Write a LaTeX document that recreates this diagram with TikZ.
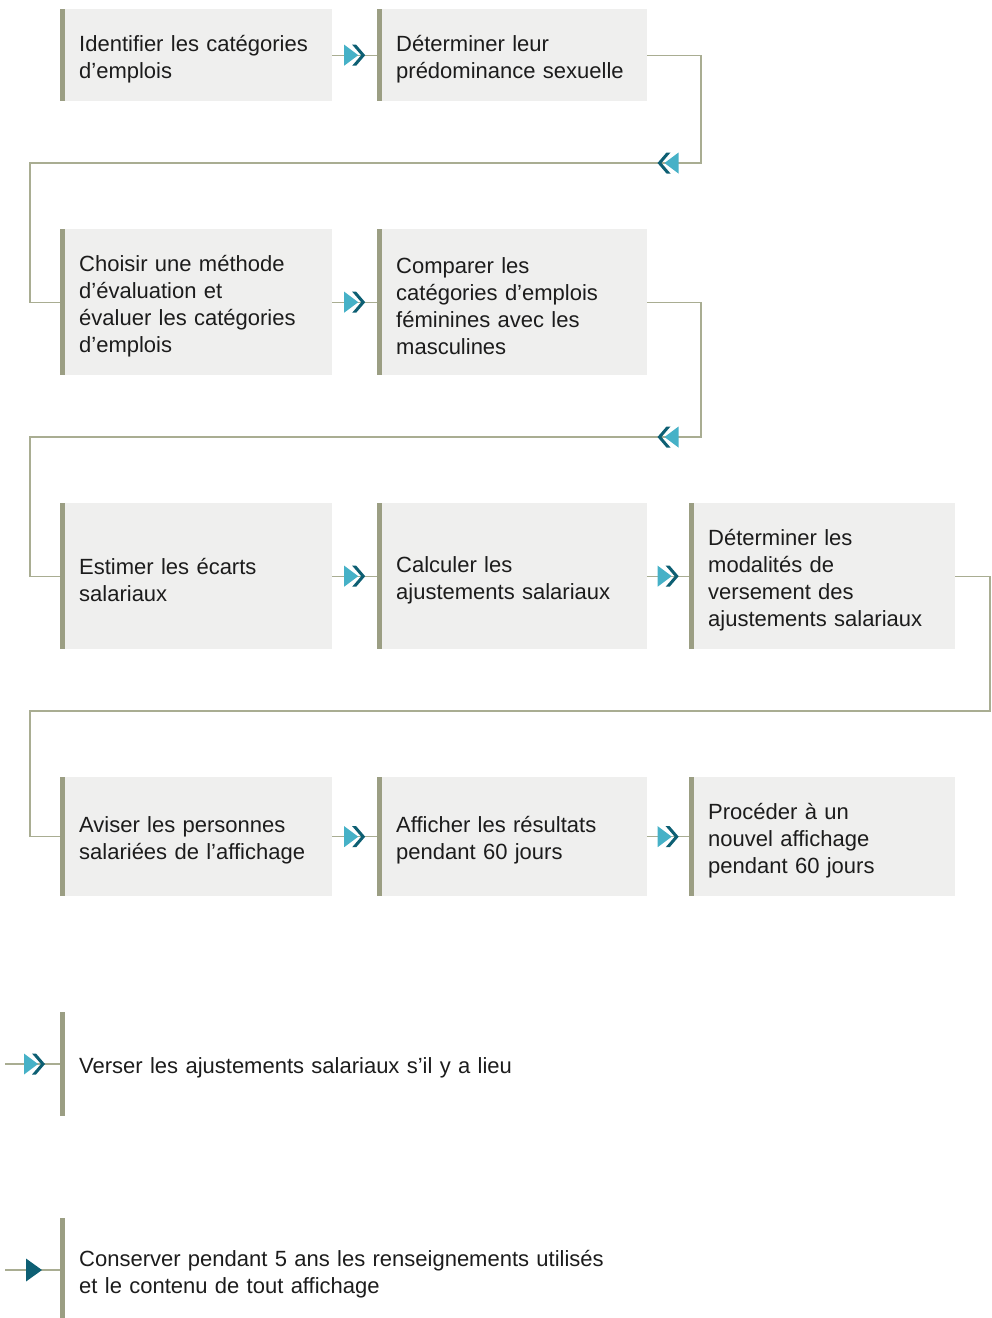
\documentclass[tikz,border=0pt]{standalone}
\usepackage{fontspec}
\setmainfont{Liberation Sans}[WordSpace=0.85]
\usetikzlibrary{calc}

\definecolor{fondgris}{HTML}{EFEFEE}
\definecolor{barre}{HTML}{9B9E83}
\definecolor{trait}{HTML}{A9AD92}
\definecolor{tealclair}{HTML}{46B1C7}
\definecolor{tealfonce}{HTML}{0D5F73}
\definecolor{texte}{HTML}{1C1C1C}

\begin{document}
\begin{tikzpicture}[x=1pt, y=-1pt,
    etape/.style={fill=fondgris, anchor=north west, align=left, inner xsep=19pt, inner ysep=0pt,
        text=texte, font=\fontsize{22}{27}\selectfont,
        execute at begin node={\rule{0pt}{24pt}},
        path picture={\fill[barre] (path picture bounding box.north west) rectangle ([xshift=4.5pt]path picture bounding box.south west);}},
    note/.style={etape, fill=none, anchor=west, text width=560pt},
    liaison/.style={draw=trait, line width=1.3pt},
    chevrons/.pic={
        \fill[tealclair] (-10.5,-10.5) -- (3.5,0) -- (-10.5,10.5) -- cycle;
        \fill[tealfonce] (-2.5,-10.5) -- (1.5,-10.5) -- (10.5,0) -- (1.5,10.5) -- (-2.5,10.5) -- (6.5,0) -- cycle;
    },
    fleche/.pic={
        \fill[tealfonce] (-8,-11.5) -- (8,0) -- (-8,11.5) -- cycle;
    }]
    \useasboundingbox (0,0) rectangle (992,1318);

    \node[etape, text width=234pt, minimum height=92pt] (b1) at (60,9) {Identifier les catégories\\d’emplois};
    \node[etape, text width=232pt, minimum height=92pt] (b2) at (377,9) {Déterminer leur\\prédominance sexuelle};

    \node[etape, text width=234pt, minimum height=146pt] (b3) at (60,229) {Choisir une méthode\\d’évaluation et\\évaluer les catégories\\d’emplois};
    \node[etape, text width=232pt, minimum height=146pt] (b4) at (377,229) {Comparer les\\catégories d’emplois\\féminines avec les\\masculines};

    \node[etape, text width=234pt, minimum height=146pt] (b5) at (60,503) {Estimer les écarts\\salariaux};
    \node[etape, text width=232pt, minimum height=146pt] (b6) at (377,503) {Calculer les\\ajustements salariaux};
    \node[etape, text width=228pt, minimum height=146pt] (b7) at (689,503) {Déterminer les\\modalités de\\versement des\\ajustements salariaux};

    \node[etape, text width=234pt, minimum height=119pt] (b8) at (60,777) {Aviser les personnes\\salariées de l’affichage};
    \node[etape, text width=232pt, minimum height=119pt] (b9) at (377,777) {Afficher les résultats\\pendant 60 jours};
    \node[etape, text width=228pt, minimum height=119pt] (b10) at (689,777) {Procéder à un\\nouvel affichage\\pendant 60 jours};

    \node[note, minimum height=104pt] (n1) at (60,1064) {Verser les ajustements salariaux s’il y a lieu};
    \node[note, minimum height=104pt] (n2) at (60,1270) {Conserver pendant 5 ans les renseignements utilisés\\et le contenu de tout affichage};

    \coordinate (c1) at (701,163);
    \coordinate (c2) at (30,163);
    \coordinate (c3) at (701,437);
    \coordinate (c4) at (30,437);
    \coordinate (c5) at (990,711);
    \coordinate (c6) at (30,711);
    \coordinate (d1) at (5,1064);
    \coordinate (d2) at (5,1270);

    \draw[liaison] (b1.east) -- (b2.west);
    \draw[liaison] (b2.east) -| (c1) -- (c2) |- (b3.west);
    \draw[liaison] (b3.east) -- (b4.west);
    \draw[liaison] (b4.east) -| (c3) -- (c4) |- (b5.west);
    \draw[liaison] (b5.east) -- (b6.west);
    \draw[liaison] (b6.east) -- (b7.west);
    \draw[liaison] (b7.east) -| (c5) -- (c6) |- (b8.west);
    \draw[liaison] (b8.east) -- (b9.west);
    \draw[liaison] (b9.east) -- (b10.west);
    \draw[liaison] (d1) -- (n1.west);
    \draw[liaison] (d2) -- (n2.west);

    \pic at ($(b1.east)!0.5!(b2.west)$) {chevrons};
    \pic[rotate=180] at (668,163) {chevrons};
    \pic at ($(b3.east)!0.5!(b4.west)$) {chevrons};
    \pic[rotate=180] at (668,437) {chevrons};
    \pic at ($(b5.east)!0.5!(b6.west)$) {chevrons};
    \pic at ($(b6.east)!0.5!(b7.west)$) {chevrons};
    \pic at ($(b8.east)!0.5!(b9.west)$) {chevrons};
    \pic at ($(b9.east)!0.5!(b10.west)$) {chevrons};
    \pic at (34.5,1064) {chevrons};
    \pic at (34,1270) {fleche};

\end{tikzpicture}
\end{document}
